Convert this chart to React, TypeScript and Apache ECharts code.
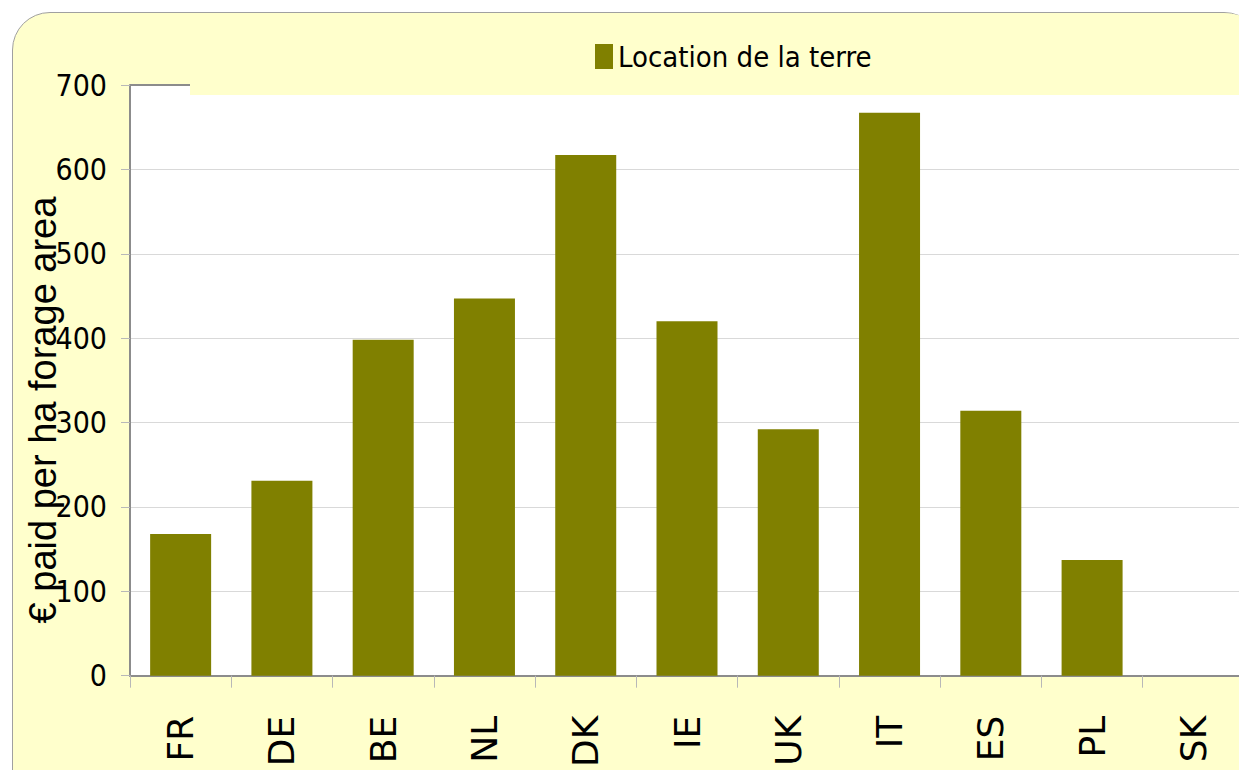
import React, { useEffect, useRef } from "react";
import * as echarts from "echarts";

const categories = ["FR", "DE", "BE", "NL", "DK", "IE", "UK", "IT", "ES", "PL", "SK"];
const values = [168, 231, 398, 447, 617, 420, 292, 667, 314, 137, 0];
const seriesName = "Location de la terre";
const yTitle = "€ paid per ha forage area";

const NARROW = "'DejaVu Sans Condensed', 'Liberation Sans Narrow', 'Liberation Sans', Arial, sans-serif";

export default function App() {
  const ref = useRef<HTMLDivElement>(null);
  useEffect(() => {
    if (!ref.current) return;
    const chart = echarts.init(ref.current, undefined, { renderer: "svg" });
    chart.setOption({
      animation: false,
      backgroundColor: "transparent",
      grid: {
        left: 130,
        top: 85,
        width: 1114,
        height: 593,
        show: true,
        backgroundColor: "#ffffff",
        borderWidth: 0,
        containLabel: false,
      },
      legend: {
        left: 590,
        top: 37,
        z: 10,
        itemWidth: 18,
        itemHeight: 25,
        itemGap: 5,
        icon: "rect",
        data: [seriesName],
        textStyle: { fontFamily: NARROW, fontSize: 29, color: "#000", padding: [0, 0, 0, 0] },
      },
      xAxis: {
        type: "category",
        data: categories,
        axisLine: { show: true, lineStyle: { color: "#8c8c8c", width: 2 } },
        axisTick: { show: true, alignWithLabel: false, length: 12, lineStyle: { color: "#b8b8b8", width: 1 } },
        axisLabel: {
          rotate: 90,
          margin: 40,
          fontFamily: "'DejaVu Sans', Verdana, sans-serif",
          fontSize: 36,
          color: "#000",
        },
        splitLine: { show: false },
      },
      yAxis: {
        type: "value",
        min: 0,
        max: 700,
        interval: 100,
        axisLine: { show: true, lineStyle: { color: "#8c8c8c", width: 2 } },
        axisTick: { show: true, length: 9, lineStyle: { color: "#b8b8b8", width: 1 } },
        axisLabel: { margin: 23, fontFamily: NARROW, fontSize: 30, color: "#000" },
        splitLine: { show: true, lineStyle: { color: "#d9d9d9", width: 1 } },
      },
      series: [
        {
          name: seriesName,
          type: "bar",
          data: values,
          barWidth: 61,
          itemStyle: { color: "#808000" },
        },
      ],
      graphic: [
        {
          type: "rect",
          z: 5,
          shape: { x: 190, y: 13.5, width: 1075, height: 81.5, r: [0, 37, 0, 0] },
          style: { fill: "#FFFFCC" },
        },
        {
          type: "line",
          z: 6,
          shape: { x1: 130, y1: 85, x2: 190, y2: 85 },
          style: { stroke: "#8c8c8c", lineWidth: 2 },
        },
        {
          type: "text",
          z: 6,
          x: 43,
          y: 410,
          rotation: Math.PI / 2,
          style: {
            text: yTitle,
            fontFamily: "'Liberation Sans', Arial, sans-serif",
            fontSize: 38,
            fill: "#000",
            align: "center",
            verticalAlign: "middle",
          },
        },
      ],
    });
    return () => chart.dispose();
  }, []);

  return (
    <div style={{ position: "fixed", left: 0, top: 0, width: 1239, height: 770, overflow: "hidden", background: "#fff" }}>
      <div
        style={{
          position: "absolute",
          left: 12,
          top: 12,
          width: 1250,
          height: 800,
          boxSizing: "border-box",
          border: "1.5px solid #a0a0a0",
          borderRadius: 38,
          background: "#FFFFCC",
        }}
      />
      <div ref={ref} style={{ position: "absolute", left: 0, top: 0, width: 1280, height: 770 }} />
    </div>
  );
}
